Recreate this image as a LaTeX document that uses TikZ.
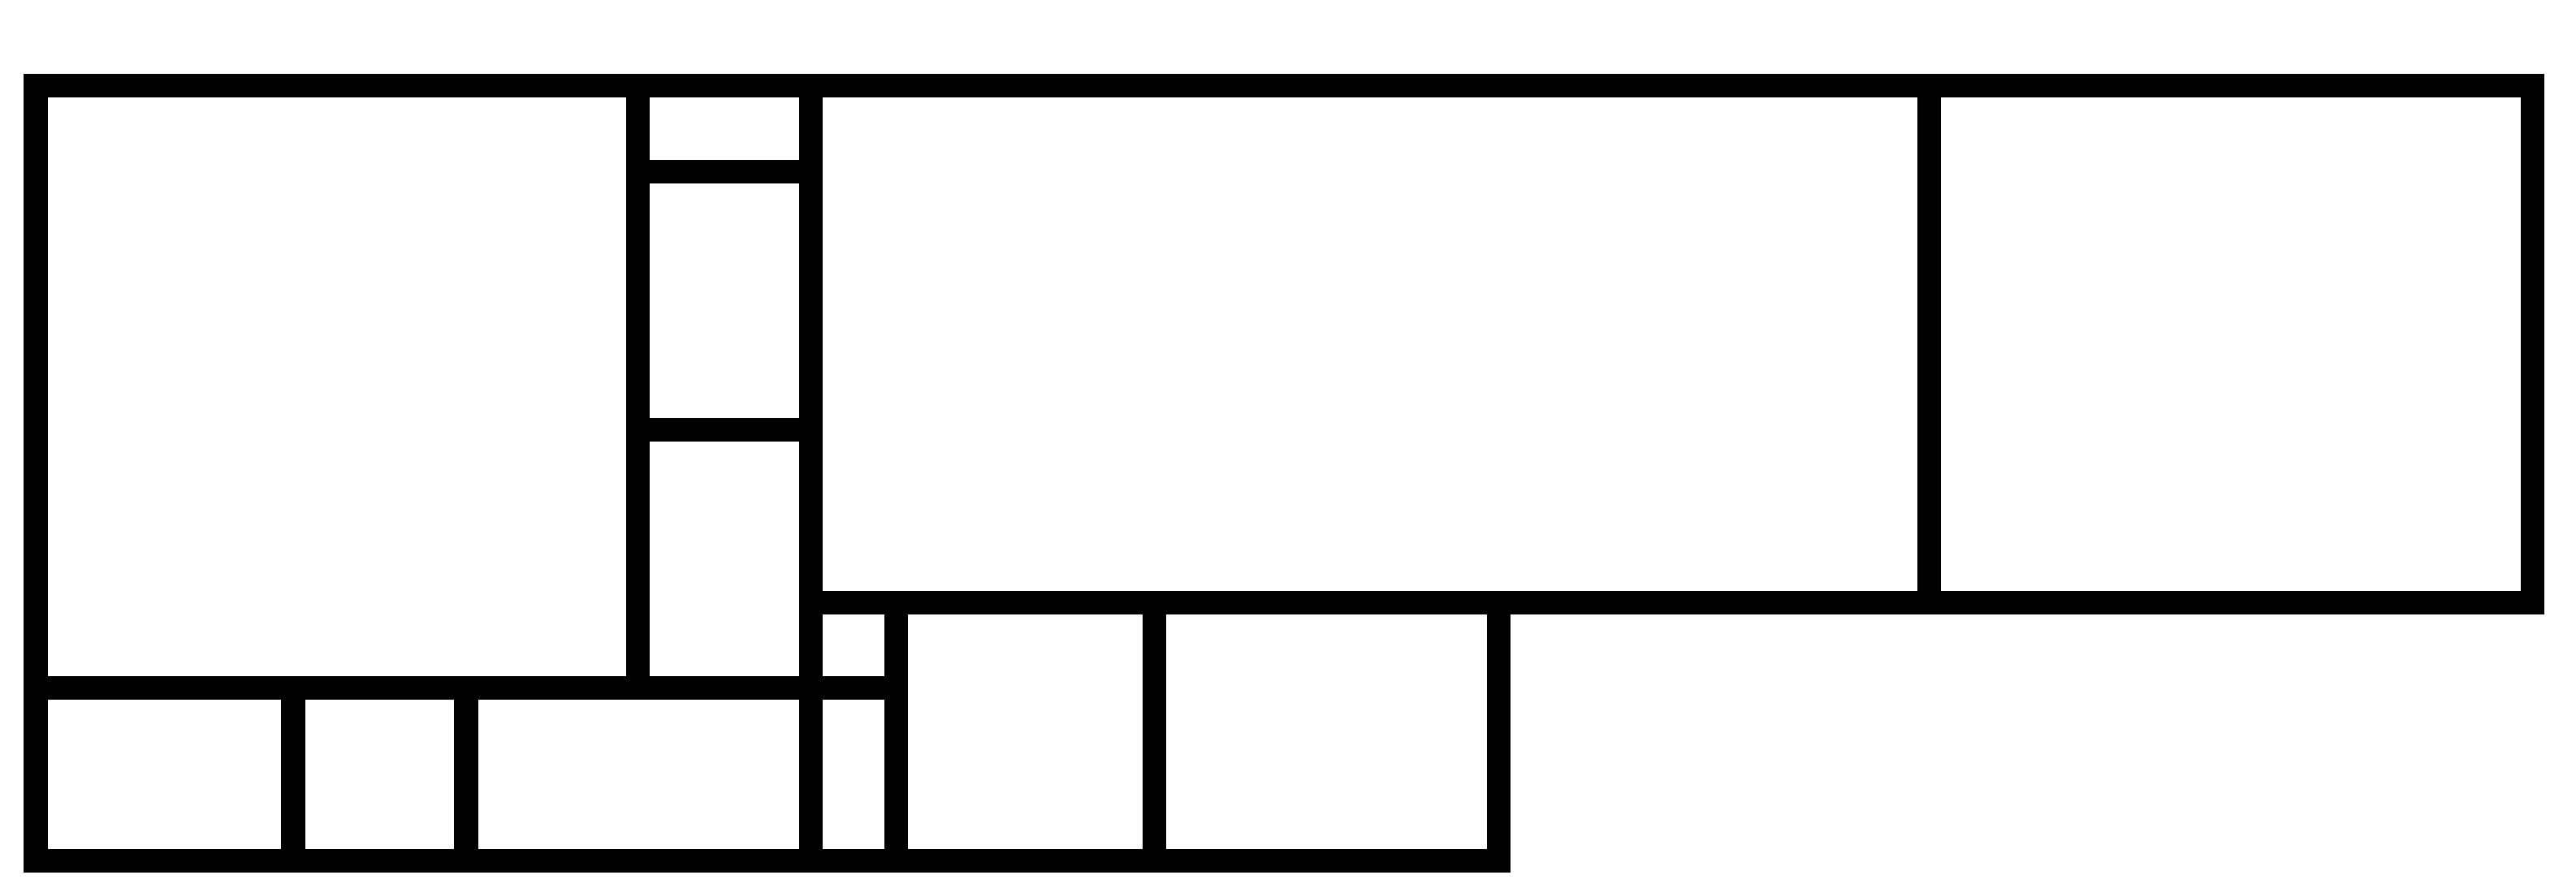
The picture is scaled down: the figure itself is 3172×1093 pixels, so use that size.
\documentclass[tikz,border=0pt]{standalone}
\begin{document}
\begin{tikzpicture}[x=0.01cm,y=-0.01cm,
  wall/.style={line width=2.9mm, line cap=rect, draw=black}]
\useasboundingbox (0,0) rectangle (3172,1093);
% named corner coordinates
\coordinate (TL) at (44,105);
\coordinate (TR) at (3118,105);
\coordinate (BL) at (44,1060);
\coordinate (BR) at (1845,1060);
% outer lines
\draw[wall] (TL) -- (TR);
\draw[wall] (TL) -- (BL);
\draw[wall] (BL) -- (BR);
% corridor
\draw[wall] (785,105) -- (785,847);
\draw[wall] (998,105) -- (998,1060);
\draw[wall] (785,211) -- (998,211);
\draw[wall] (785,529) -- (998,529);
% right block
\draw[wall] (998,742) -- (3118,742);
\draw[wall] (2375,105) -- (2375,742);
\draw[wall] (TR) -- (3118,742);
% bottom strip
\draw[wall] (44,847) -- (1103,847);
\draw[wall] (361,847) -- (361,1060);
\draw[wall] (574,847) -- (574,1060);
\draw[wall] (1103,742) -- (1103,1060);
\draw[wall] (1421,742) -- (1421,1060);
\draw[wall] (BR) -- (1845,742);
\end{tikzpicture}
\end{document}
